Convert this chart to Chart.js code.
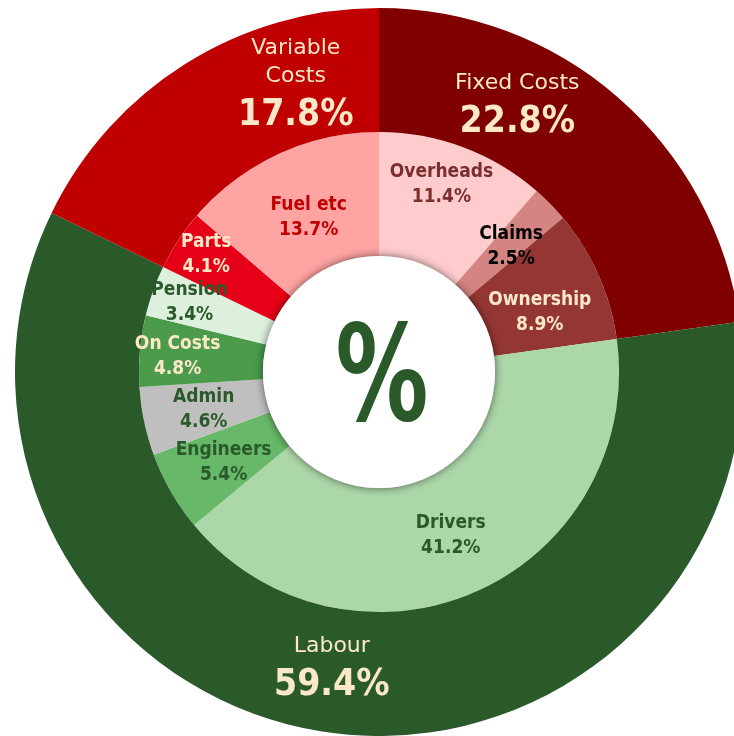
<!DOCTYPE html>
<html>
<head>
<meta charset="utf-8">
<script src="https://cdn.jsdelivr.net/npm/chart.js@4/dist/chart.umd.min.js"></script>
<style>
  html, body { margin: 0; padding: 0; background: #fff; overflow: hidden; width: 734px; height: 736px; }
  #wrap { position: absolute; left: 15px; top: 8px; width: 728px; height: 728px; }
</style>
</head>
<body>
<div id="wrap"><canvas id="costChart"></canvas></div>
<script>
// outer ring: cost groups
const groupLabels = ["Fixed Costs", "Labour", "Variable Costs"];
const groupValues = [22.8, 59.4, 17.8];
const groupColors = ["#800000", "#2a592a", "#c00000"];

// inner ring: cost items
const itemLabels = ["Overheads", "Claims", "Ownership", "Drivers", "Engineers", "Admin", "On Costs", "Pension", "Parts", "Fuel etc"];
const itemValues = [11.4, 2.5, 8.9, 41.2, 5.4, 4.6, 4.8, 3.4, 4.1, 13.7];
const itemColors = ["#ffccce", "#d48481", "#943634", "#acd7a9", "#67b868", "#bfbfbf", "#4b9b4b", "#ddefdd", "#e60017", "#ffa3a3"];

const cream = "#fbe8c8";
const darkGreen = "#2a592a";
const FONT = '"DejaVu Sans Condensed", "DejaVu Sans", sans-serif';
const WIDE_FONT = '"DejaVu Sans", sans-serif';

// label colour and nudge from the arc middle (text only)
const groupLabelStyle = [
  { color: cream, dx: -60, dy: -42 },
  { color: cream, dx: 0, dy: -5 },
  { color: cream, dx: 77, dy: -21, wrap: true }
];
const itemLabelStyle = [
  { color: "#7a2e2e", dx: 0, dy: -21 },
  { color: "#000000", dx: 5, dy: -1 },
  { color: cream, dx: -2, dy: 12 },
  { color: darkGreen, dx: 0, dy: 0 },
  { color: darkGreen, dx: -1, dy: 1 },
  { color: darkGreen, dx: -1, dy: 0 },
  { color: cream, dx: -24, dy: 0 },
  { color: darkGreen, dx: -22, dy: -10 },
  { color: cream, dx: -24, dy: -20 },
  { color: "#c00000", dx: 4, dy: 7 }
];

const labelPlugin = {
  id: "ringLabels",
  afterDatasetsDraw(chart) {
    const ctx = chart.ctx;
    const hole = chart.getDatasetMeta(1).data[0];
    const { x, y, innerRadius } = hole.getProps(["x", "y", "innerRadius"], true);

    // white centre with a soft shadow
    ctx.save();
    ctx.beginPath();
    ctx.arc(x, y, innerRadius, 0, Math.PI * 2);
    ctx.fillStyle = "#ffffff";
    ctx.shadowColor = "rgba(0,0,0,0.55)";
    ctx.shadowBlur = 9;
    ctx.fill();
    ctx.restore();

    // big % sign
    ctx.save();
    ctx.translate(x + 3, y + 13);
    ctx.scale(0.77, 1);
    ctx.font = "bold 134px " + FONT;
    ctx.fillStyle = darkGreen;
    ctx.textAlign = "center";
    ctx.textBaseline = "middle";
    ctx.fillText("%", 0, 0);
    ctx.restore();

    ctx.save();
    ctx.textAlign = "center";
    ctx.textBaseline = "middle";

    // outer ring labels
    chart.getDatasetMeta(0).data.forEach((arc, i) => {
      const p = arc.tooltipPosition(true);
      const s = groupLabelStyle[i];
      const cx = p.x + s.dx, cy = p.y + s.dy;
      const lines = s.wrap ? groupLabels[i].split(" ") : [groupLabels[i]];
      ctx.fillStyle = s.color;
      ctx.font = "22px " + WIDE_FONT;
      lines.forEach((t, k) => {
        ctx.fillText(t, cx, cy - 19 - (lines.length - 1 - k) * 28);
      });
      ctx.font = "bold 37px " + FONT;
      ctx.fillText(groupValues[i].toFixed(1) + "%", cx, cy + 20);
    });

    // inner ring labels
    chart.getDatasetMeta(1).data.forEach((arc, i) => {
      const p = arc.tooltipPosition(true);
      const s = itemLabelStyle[i];
      const cx = p.x + s.dx, cy = p.y + s.dy;
      ctx.fillStyle = s.color;
      ctx.font = "bold 19px " + FONT;
      ctx.fillText(itemLabels[i], cx, cy - 12);
      ctx.fillText(itemValues[i].toFixed(1) + "%", cx, cy + 13);
    });
    ctx.restore();
  }
};

new Chart(document.getElementById("costChart"), {
  type: "doughnut",
  data: {
    labels: itemLabels,
    datasets: [
      {
        label: "Group",
        data: groupValues,
        backgroundColor: groupColors,
        borderWidth: 0,
        hoverBorderWidth: 0,
        hoverOffset: 0,
        offset: 0
      },
      {
        label: "Item",
        data: itemValues,
        backgroundColor: itemColors,
        borderWidth: 0,
        hoverBorderWidth: 0,
        hoverOffset: 0,
        offset: 0
      }
    ]
  },
  options: {
    responsive: true,
    maintainAspectRatio: false,
    animation: false,
    cutout: "31.9%",
    layout: { padding: 0 },
    plugins: {
      legend: { display: false },
      tooltip: { enabled: false }
    }
  },
  plugins: [labelPlugin]
});
</script>
</body>
</html>
